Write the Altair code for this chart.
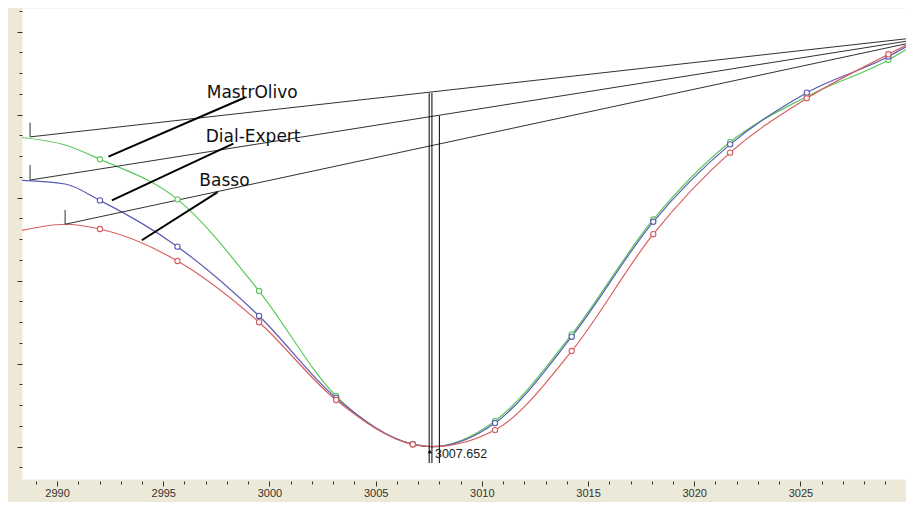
import altair as alt
import pandas as pd

# ---- data ----
x_vals = [2988.35, 2990.38, 2992.02, 2995.67, 2999.51, 3003.14, 3006.75, 3007.652,
          3010.62, 3014.23, 3018.07, 3021.69, 3025.30, 3029.14, 3030.35]
mastrolivo = [14.90, 14.54, 13.85, 11.92, 7.50, 2.44, 0.13, 0.0,
              1.24, 5.41, 10.95, 14.68, 16.88, 18.64, 19.36]
dial_expert = [12.83, 12.66, 11.87, 9.64, 6.30, 2.35, 0.12, 0.0,
               1.14, 5.30, 10.84, 14.57, 17.06, 18.80, 19.50]
basso = [10.42, 10.72, 10.49, 8.95, 6.00, 2.25, 0.11, 0.0,
         0.80, 4.61, 10.24, 14.17, 16.79, 18.91, 19.55]
marked = [0, 0, 1, 1, 1, 1, 1, 0, 1, 1, 1, 1, 1, 1, 0]

series_names = ["MastrOlivo", "Dial-Expert", "Basso"]
series_colors = ["#5cc85c", "#5a5ab4", "#d65f5f"]

# black reference lines from each curve's top to the common end
ref_x0 = [2988.73, 2988.73, 2990.38]
ref_y0 = [14.93, 12.85, 10.72]
ref_x1 = [3030.35, 3030.35, 3030.35]
ref_y1 = [19.70, 19.60, 19.50]
ref_tick_top = [15.62, 13.58, 11.41]

# leader lines and labels
lead_x0 = [2998.85, 2998.30, 2997.56]
lead_y0 = [16.83, 14.61, 12.27]
lead_x1 = [2992.42, 2992.58, 2993.99]
lead_y1 = [13.98, 11.87, 9.95]
label_x = [2997.05, 2997.00, 2996.70]
label_y = [17.03, 14.94, 12.80]

# cursor lines at the minimum
cursor_x = [3007.52, 3007.65, 3008.0]
cursor_top = [17.05, 17.05, 15.94]
cursor_bottom = [-0.79, -0.79, -0.79]
min_x = [3007.652]
min_y = [0.0]
min_label = ["3007.652"]
arrow_x = [3007.55]
arrow_y = [-0.23]

x_ticks = list(range(2989, 3030))
y_ticks = list(range(-1, 22))

# ---- tables ----
rows = []
for name, ys in zip(series_names, [mastrolivo, dial_expert, basso]):
    for x, y, m in zip(x_vals, ys, marked):
        rows.append({"series": name, "x": x, "y": y, "marked": m})
curves = pd.DataFrame(rows)
points = curves[curves["marked"] == 1]

refs = pd.DataFrame({"x0": ref_x0, "y0": ref_y0, "x1": ref_x1, "y1": ref_y1, "yt": ref_tick_top})
leads = pd.DataFrame({"x0": lead_x0, "y0": lead_y0, "x1": lead_x1, "y1": lead_y1,
                      "lx": label_x, "ly": label_y, "name": series_names})
cursors = pd.DataFrame({"x": cursor_x, "top": cursor_top, "bottom": cursor_bottom})
minimum = pd.DataFrame({"x": min_x, "y": min_y, "label": min_label})
arrow = pd.DataFrame({"x": arrow_x, "y": arrow_y})

xs = alt.Scale(domain=[2988.35, 3029.97], nice=False, zero=False)
ys = alt.Scale(domain=[-1.557, 21.142], nice=False, zero=False)
cs = alt.Scale(domain=series_names, range=series_colors)

x_axis = alt.Axis(values=x_ticks, domain=False, grid=False, offset=2, title=None,
                  tickSize={"condition": {"test": "datum.value % 5 === 0", "value": 5}, "value": 3},
                  tickColor="#333333", labelExpr="datum.value % 5 === 0 ? format(datum.value, 'd') : ''",
                  labelFont="Liberation Sans", labelFontSize=11, labelColor="#333333",
                  labelPadding=1, labelFlush=False)
y_axis = alt.Axis(values=y_ticks, domain=False, grid=False, labels=False, title=None,
                  tickSize={"condition": {"test": "datum.value % 4 === 0", "value": 5}, "value": 3},
                  tickColor="#333333")


def X(field):
    return alt.X(field, type="quantitative", scale=xs, axis=x_axis)


def Y(field):
    return alt.Y(field, type="quantitative", scale=ys, axis=y_axis)


lines = alt.Chart(curves).mark_line(interpolate="monotone", strokeWidth=1.2, clip=True).encode(
    x=X("x"), y=Y("y"),
    color=alt.Color("series:N", scale=cs, legend=None),
    detail="series:N",
)

circles = alt.Chart(points).mark_point(shape="circle", filled=False, size=28, strokeWidth=1.1,
                                       fill="white", fillOpacity=1).encode(
    x=X("x"), y=Y("y"),
    color=alt.Color("series:N", scale=cs, legend=None),
)

ref_lines = alt.Chart(refs).mark_rule(color="#303030", strokeWidth=1, clip=True).encode(
    x=X("x0"), y=Y("y0"), x2="x1:Q", y2="y1:Q",
)
ref_ticks = alt.Chart(refs).mark_rule(color="#303030", strokeWidth=1).encode(
    x=X("x0"), y=Y("y0"), y2="yt:Q",
)

leader = alt.Chart(leads).mark_rule(color="#000000", strokeWidth=2).encode(
    x=X("x0"), y=Y("y0"), x2="x1:Q", y2="y1:Q",
)
labels = alt.Chart(leads).mark_text(align="left", baseline="middle", font="DejaVu Sans",
                                    fontSize=17, color="#111111").encode(
    x=X("lx"), y=Y("ly"), text="name:N",
)

cursor = alt.Chart(cursors).mark_rule(color="#000000", strokeWidth=1).encode(
    x=X("x"), y=Y("top"), y2="bottom:Q",
)
arrow_mark = alt.Chart(arrow).mark_point(shape="triangle-up", filled=True, size=18, color="#000000",
                                          opacity=1).encode(
    x=X("x"), y=Y("y"),
)
min_text = alt.Chart(minimum).mark_text(align="left", baseline="middle", font="Liberation Sans",
                                        fontSize=12.5, color="#222222", dx=3, dy=7).encode(
    x=X("x"), y=Y("y"), text="label:N",
)

chart = alt.layer(
    lines, ref_lines, ref_ticks, cursor, circles, leader, labels, arrow_mark, min_text
).properties(
    width=884, height=471,
    autosize=alt.AutoSizeParams(type="none"),
    padding={"left": 14, "top": 0, "right": 0, "bottom": 23},
    background="#ECE9D8",
).configure_view(fill="white", stroke="transparent")

chart.save("out.html", embed_options={"renderer": "svg", "actions": False})
